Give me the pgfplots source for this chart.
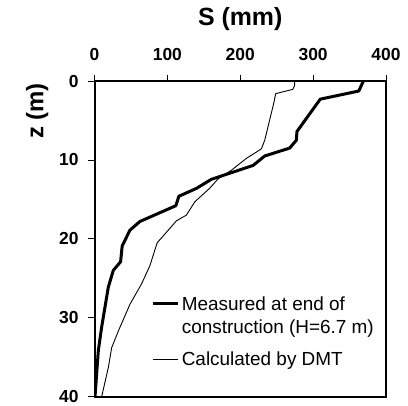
\documentclass[border=0pt]{standalone}
\usepackage{fontspec}
\setmainfont{Liberation Sans}
\usepackage{pgfplots}
\pgfplotsset{compat=1.18}

% legend line raised to the first line of a two-line entry
\pgfplotsset{raised legend line/.style={
  legend image code/.code={\draw[##1] (0bp,12.5bp) -- (25bp,12.5bp);}}}

% Settlement profiles: measured vs. DMT prediction
\pgfplotstableread{
S      z
369.0  0.0
362.7  1.27
309.8  2.3
277.8  6.4
277.0  7.5
267.8  8.5
233.6  9.5
217.6  10.7
160.5  12.45
140.0  13.6
115.8  14.6
111.6  15.8
62.3   17.8
48.6   18.9
38.0   20.9
35.8   22.9
25.8   24.0
19.0   26.1
9.8    31.2
5.3    34.1
0.7    40.0
}\measured

\pgfplotstableread{
S      z
274.7  0.0
274.5  0.6
272.0  1.06
248.6  1.6
246.0  2.8
233.6  7.5
229.0  8.6
208.5  9.8
187.9  11.3
169.6  12.4
158.0  13.6
137.7  15.3
126.0  17.0
112.6  17.7
86.0   20.5
76.0   23.4
64.6   25.7
48.6   28.3
32.6   31.7
23.5   33.8
19.0   36.3
9.8    40.0
}\dmt

\begin{document}
\begin{tikzpicture}[x=1bp,y=1bp]
\path[use as bounding box] (0,0) rectangle (408,406);
\begin{axis}[
  at={(94.5bp,9.3bp)}, anchor=south west,
  scale only axis, width=291.5bp, height=315.7bp,
  xmin=0, xmax=400, ymin=0, ymax=40,
  y dir=reverse,
  xtick={0,100,200,300,400}, ytick={0,10,20,30,40},
  xtick pos=right, xticklabel pos=right,
  ytick pos=left,
  tick align=outside,
  major tick length=6.5bp,
  every tick/.style={black, line width=0.8bp},
  axis line style={line width=2bp},
  /pgf/number format/assume math mode=true,
  ticklabel style={font=\bfseries\fontsize{17.5}{20}\selectfont},
  xticklabel style={yshift=10bp},
  yticklabel style={xshift=-6bp},
  xlabel={S (mm)},
  xlabel style={at={(axis description cs:0.5,1)}, anchor=base, yshift=56bp,
    font=\bfseries\fontsize{25}{28}\selectfont},
  ylabel={z (m)},
  ylabel style={at={(axis description cs:-0.1756,0.905)}, anchor=base, rotate=0,
    font=\bfseries\fontsize{24}{28}\selectfont},
  legend style={at={(axis description cs:0.196,0.324)}, anchor=north west,
    draw=none, fill=none, inner sep=0pt,
    font=\fontsize{19}{23.3}\selectfont,
    cells={anchor=west, align=left}, row sep=13bp},
  legend image code/.code={\draw[#1] (0bp,0bp) -- (25bp,0bp);},
]
\addplot[black, line width=3bp, line join=round, raised legend line]
  table[x=S, y=z] {\measured};
\addlegendentry{Measured at end of\\construction (H=6.7 m)}
\addplot[black, line width=0.9bp, line join=round] table[x=S, y=z] {\dmt};
\addlegendentry{Calculated by DMT}
\end{axis}
\end{tikzpicture}
\end{document}
